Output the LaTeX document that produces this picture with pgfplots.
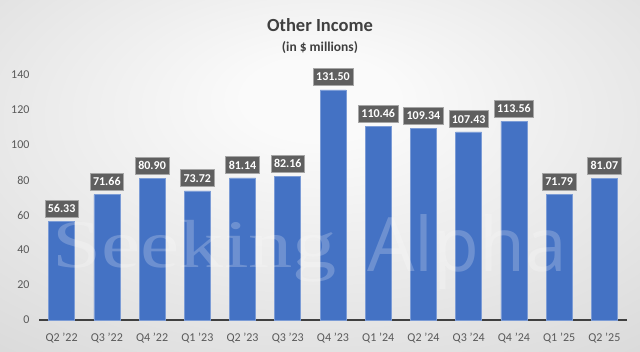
\documentclass[border=0pt]{standalone}
\usepackage{pgfplots}
\pgfplotsset{compat=1.18}
\usepackage{fontspec}
\setmainfont{Carlito}
\newfontfamily\wmserif{Liberation Serif}
\newfontfamily\wmsans{Open Sans}
\definecolor{barblue}{HTML}{4472C4}
\definecolor{lblgray}{HTML}{5F5F5F}
\definecolor{txtgray}{HTML}{595959}
\definecolor{titlegray}{HTML}{404040}
\pgfdeclareradialshading{bgshade}{\pgfpoint{0bp}{12bp}}{color(0bp)=(black!2); color(6bp)=(black!2); color(50bp)=(black!18); color(75bp)=(black!24)}
\begin{document}
\begin{tikzpicture}[x=1pt,y=1pt]
\path[shading=bgshade] (0,0) rectangle (640,352);
\node[text=titlegray] at (320,327) {\fontsize{18.5}{20}\selectfont\bfseries Other Income};
\node[text=titlegray] at (320,304) {\fontsize{13.5}{15}\selectfont\bfseries (in \$ millions)};
\begin{axis}[
  at={(39pt,32pt)}, anchor=south west, scale only axis,
  width=588pt, height=245pt,
  xmin=-0.5, xmax=12.5, ymin=0, ymax=140,
  ytick={0,20,...,140},
  xtick=data,
  xticklabels={Q2 '22,Q3 '22,Q4 '22,Q1 '23,Q2 '23,Q3 '23,Q4 '23,Q1 '24,Q2 '24,Q3 '24,Q4 '24,Q1 '25,Q2 '25},
  axis x line*=bottom, axis y line*=left,
  x axis line style={draw=titlegray, line width=1.5pt, -},
  y axis line style={draw=none},
  major tick length=0pt,
  tick label style={font=\fontsize{12}{14}\selectfont, text=txtgray},
  /pgf/number format/assume math mode=true,
  xticklabel style={yshift=-10pt},
  yticklabel style={xshift=-6pt},
  ybar, bar width=26pt,
  clip=false,
  nodes near coords={\pgfmathprintnumber[fixed,fixed zerofill,precision=2,assume math mode=true]{\pgfplotspointmeta}},
  every node near coord/.style={fill=lblgray, draw=black!35, text=white,
    font=\fontsize{12}{14}\selectfont\bfseries, inner xsep=3pt, inner ysep=0pt,
    minimum height=17pt, anchor=south, yshift=4pt},
]
\addplot[fill=barblue, draw=barblue!70!white, line width=0.6pt] coordinates {
(0,56.33) (1,71.66) (2,80.90) (3,73.72) (4,81.14) (5,82.16) (6,131.50)
(7,110.46) (8,109.34) (9,107.43) (10,113.56) (11,71.79) (12,81.07)};
\end{axis}
\node[text=white, opacity=0.22, anchor=base west, xscale=1.3, inner sep=0pt] at (52,84) {\wmserif\fontsize{68}{70}\selectfont Seeking};
\node[text=white, opacity=0.22, anchor=base west, inner sep=0pt] at (367,80) {\wmsans\fontsize{75}{77}\selectfont Alpha};
\end{tikzpicture}
\end{document}
